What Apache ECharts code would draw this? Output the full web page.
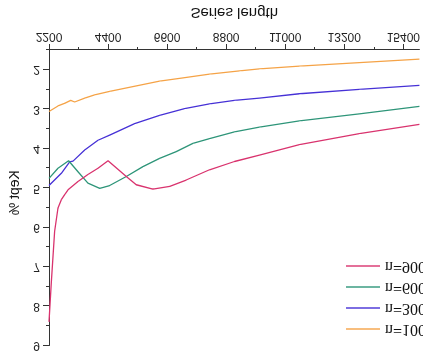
<!DOCTYPE html>
<html>
<head>
<meta charset="utf-8">
<script src="https://cdn.jsdelivr.net/npm/echarts@6/dist/echarts.min.js"></script>
<style>
  html, body { margin: 0; padding: 0; background: #fff; }
  /* the reference picture is mirrored top-to-bottom */
  #chart { width: 423px; height: 354px; transform: scaleY(-1); }
</style>
</head>
<body>
<div id="chart"></div>
<script>
// tick positions
const xTicks = [2200, 4400, 6600, 8800, 11000, 13200, 15400];
const xMinorTicks = [3300, 5500, 7700, 9900, 12100, 14300];
const yTicks = [2, 3, 4, 5, 6, 7, 8, 9];
const yMinorTicks = [1.5, 2.5, 3.5, 4.5, 5.5, 6.5, 7.5, 8.5];

// [series length, kept %]
const n100 = [[2200, 3.06], [2535, 2.92], [2800, 2.85], [3010, 2.78], [3155, 2.82], [3530, 2.72], [3900, 2.64],
  [4460, 2.55], [6320, 2.29], [7065, 2.22], [8180, 2.11], [9300, 2.03], [10040, 1.98], [11530, 1.91],
  [13760, 1.82], [16000, 1.73]];
const n300 = [[2200, 4.94], [2660, 4.63], [2970, 4.34], [3095, 4.32], [3530, 4.04], [4025, 3.79], [4460, 3.66],
  [5390, 3.37], [6320, 3.16], [7250, 2.99], [8180, 2.87], [9110, 2.78], [10040, 2.72], [11530, 2.61],
  [13760, 2.50], [16000, 2.40]];
const n600 = [[2200, 4.76], [2535, 4.50], [2930, 4.31], [3280, 4.59], [3650, 4.88], [4090, 5.01], [4460, 4.94],
  [5080, 4.71], [5700, 4.46], [6320, 4.25], [6940, 4.08], [7560, 3.87], [8180, 3.75], [9110, 3.58],
  [10040, 3.46], [11530, 3.30], [13760, 3.12], [16000, 2.93]];
const n900 = [[2200, 8.4], [2290, 7.36], [2410, 6.10], [2535, 5.51], [2660, 5.30], [2785, 5.17], [2910, 5.05],
  [3280, 4.84], [3650, 4.66], [4025, 4.50], [4400, 4.31], [5080, 4.71], [5450, 4.92], [6070, 5.03],
  [6700, 4.96], [7310, 4.80], [8180, 4.54], [9110, 4.33], [10040, 4.17], [11530, 3.90], [13760, 3.62],
  [16000, 3.39]];

const names = ['n=100', 'n=300', 'n=600', 'n=900'];
const colors = ['#f5a347', '#4631d6', '#2e9579', '#d9336e'];
const lines = [n100, n300, n600, n900];

let chart = echarts.init(document.getElementById('chart'));

const axisColor = '#333';
const labelFont = {color: '#222', fontSize: 12, fontFamily: 'Liberation Sans'};
const plain = v => String(v);

chart.setOption({
  animation: false,
  grid: {left: 49, right: 3, top: 8.5, bottom: 47},
  legend: {
    orient: 'vertical',
    left: 340,
    top: 12,
    itemWidth: 34,
    itemHeight: 14,
    itemGap: 5,
    data: names,
    textStyle: {fontFamily: 'Liberation Serif', fontSize: 16, color: '#111', lineHeight: 16},
    itemStyle: {opacity: 0},
    lineStyle: {width: 2, opacity: 0.7}
  },
  xAxis: [{
    type: 'value',
    position: 'bottom',
    min: 2200,
    max: 16000,
    name: 'Series length',
    nameLocation: 'middle',
    nameGap: 30,
    nameTextStyle: {color: '#111', fontSize: 15, fontFamily: 'Liberation Sans'},
    axisLine: {show: true, lineStyle: {color: axisColor, width: 1}},
    axisTick: {show: true, customValues: xTicks, length: 6, lineStyle: {color: axisColor}},
    axisLabel: Object.assign({customValues: xTicks, margin: 8, formatter: plain}, labelFont),
    splitLine: {show: false}
  }, {
    type: 'value',
    position: 'bottom',
    min: 2200,
    max: 16000,
    axisLine: {show: false},
    axisTick: {show: true, customValues: xMinorTicks, length: 3, lineStyle: {color: axisColor}},
    axisLabel: {show: false},
    splitLine: {show: false}
  }],
  yAxis: [{
    type: 'value',
    position: 'left',
    min: 1.5,
    max: 9,
    name: 'Kept %',
    nameLocation: 'middle',
    nameGap: 26,
    nameTextStyle: {color: '#111', fontSize: 14, fontFamily: 'Liberation Sans', padding: [0, 10, 0, 0]},
    axisLine: {show: true, lineStyle: {color: axisColor, width: 1}},
    axisTick: {show: true, customValues: yTicks, length: 6, lineStyle: {color: axisColor}},
    axisLabel: Object.assign({customValues: yTicks, margin: 9, formatter: plain}, labelFont),
    splitLine: {show: false}
  }, {
    type: 'value',
    position: 'left',
    min: 1.5,
    max: 9,
    axisLine: {show: false},
    axisTick: {show: true, customValues: yMinorTicks, length: 3, lineStyle: {color: axisColor}},
    axisLabel: {show: false},
    splitLine: {show: false}
  }],
  series: names.map((name, i) => ({
    name: name,
    type: 'line',
    data: lines[i],
    symbol: 'none',
    color: colors[i],
    lineStyle: {width: 1.3}
  }))
});
</script>
</body>
</html>
